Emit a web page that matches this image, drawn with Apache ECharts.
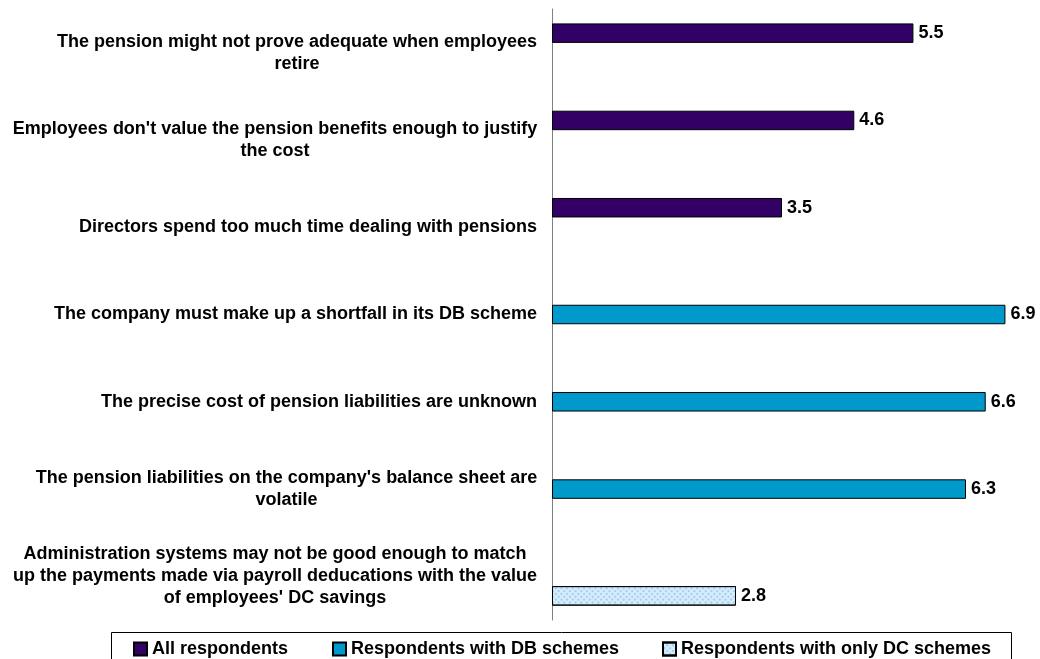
<!DOCTYPE html>
<html>
<head>
<meta charset="utf-8">
<script src="https://cdn.jsdelivr.net/npm/echarts@6/dist/echarts.min.js"></script>
<style>
  html, body { margin: 0; padding: 0; background: #fff; }
  #chart { width: 1040px; height: 659px; }
</style>
</head>
<body>
<div id="chart"></div>
<script>
// Reasons employers give for worrying about pensions (mean score)
const categories = [
  "The pension might not prove adequate when employees\nretire",
  "Employees don't value the pension benefits enough to justify\nthe cost",
  "Directors spend too much time dealing with pensions",
  "The company must make up a shortfall in its DB scheme",
  "The precise cost of pension liabilities are unknown",
  "The pension liabilities on the company's balance sheet are\nvolatile",
  "Administration systems may not be good enough to match\nup the payments made via payroll deducations with the value\nof employees' DC savings"
];
const seriesNames = ["All respondents", "Respondents with DB schemes", "Respondents with only DC schemes"];
const allRespondents = [5.5, 4.6, 3.5, null, null, null, null];
const dbRespondents  = [null, null, null, 6.9, 6.6, 6.3, null];
const dcRespondents  = [null, null, null, null, null, null, 2.8];

const FONT = "'Liberation Sans', Arial, sans-serif";
const FONT_SIZE = 18;

// Measure the widest line of each label so its lines can be centred on one another
const ctx = document.createElement('canvas').getContext('2d');
ctx.font = 'bold ' + FONT_SIZE + "px 'Liberation Sans', Arial, sans-serif";
const rich = {};
categories.forEach((c, i) => {
  const w = Math.max(...c.split('\n').map(l => ctx.measureText(l).width));
  rich['c' + i] = {
    width: Math.ceil(w) + 1, align: 'center', fontFamily: FONT, fontSize: FONT_SIZE,
    fontWeight: 'bold', color: '#000', lineHeight: 22
  };
});

const chart = echarts.init(document.getElementById('chart'));

const valueLabel = {
  show: true, position: 'right', distance: 5, color: '#000',
  fontFamily: FONT, fontSize: FONT_SIZE, fontWeight: 'bold',
  formatter: p => p.value == null ? '' : p.value.toFixed(1)
};

function barSeries(name, data, itemStyle) {
  return {
    name, type: 'bar', data,
    barGap: '0%', barCategoryGap: '33%',
    itemStyle: Object.assign({ borderColor: '#000', borderWidth: 1 }, itemStyle),
    label: valueLabel,
    emphasis: { disabled: true },
    animation: false
  };
}

const legendText = { fontFamily: FONT, fontSize: FONT_SIZE, fontWeight: 'bold', color: '#000' };
function legendAt(name, left) {
  return {
    data: [name], left, top: 640, icon: 'rect', itemWidth: 13, itemHeight: 13,
    itemGap: 0, padding: 0, textStyle: legendText, selectedMode: false
  };
}

chart.setOption({
  animation: false,
  backgroundColor: '#fff',
  grid: { left: 552, right: 28, top: 9, bottom: 39, containLabel: false },
  xAxis: {
    type: 'value', min: 0, max: 7, show: false
  },
  yAxis: {
    type: 'category', data: categories, inverse: true,
    axisLine: { show: true, lineStyle: { color: '#808080', width: 1 } },
    axisTick: { show: false },
    axisLabel: {
      margin: 14, align: 'right',
      formatter: (v, i) => v.split('\n').map(l => '{c' + i + '|' + l + '}').join('\n'),
      rich
    }
  },
  legend: [
    legendAt(seriesNames[0], 133),
    legendAt(seriesNames[1], 332),
    legendAt(seriesNames[2], 662)
  ],
  graphic: [{
    type: 'rect', silent: true,
    shape: { x: 111.5, y: 632.5, width: 900, height: 40 },
    style: { fill: 'none', stroke: '#000', lineWidth: 1 }
  }],
  series: [
    barSeries(seriesNames[0], allRespondents, { color: '#330066' }),
    barSeries(seriesNames[1], dbRespondents, { color: '#0099cc' }),
    barSeries(seriesNames[2], dcRespondents, {
      color: '#d6ecfa',
      decal: {
        symbol: 'rect', symbolSize: 1, color: 'rgba(120,190,235,0.6)',
        dashArrayX: [2, 2], dashArrayY: [2, 2], rotation: -Math.PI / 4
      }
    })
  ]
});
</script>
</body>
</html>
